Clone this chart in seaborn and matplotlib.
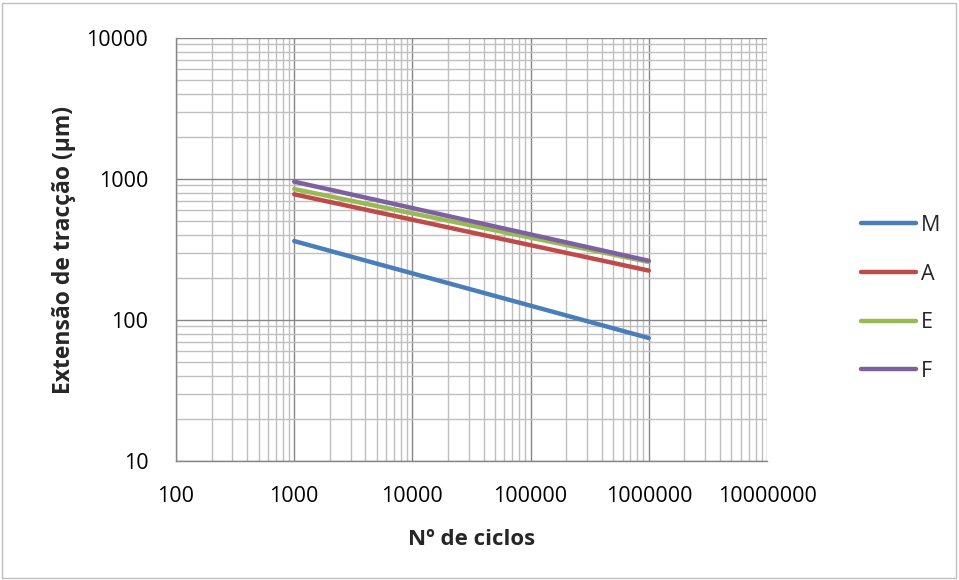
import numpy as np
import pandas as pd
import matplotlib
matplotlib.use("Agg")
import matplotlib.pyplot as plt
import seaborn as sns
from matplotlib.ticker import LogLocator, FixedLocator, NullFormatter, FuncFormatter
from matplotlib.patches import Rectangle

cycles = [1000, 1000000]
series_names = ["M", "A", "E", "F"]
M_vals = [363, 74.5]
A_vals = [779, 224]
E_vals = [849, 258]
F_vals = [957, 263]
colors = ["#4A7EBB", "#BE4B48", "#98B954", "#7D60A0"]

rows = []
for name, vals in zip(series_names, [M_vals, A_vals, E_vals, F_vals]):
    for c, v in zip(cycles, vals):
        rows.append({"ciclos": c, "ext": v, "serie": name})
df = pd.DataFrame(rows)

sns.set_style("white")
plt.rcParams['font.family'] = ['Open Sans', 'DejaVu Sans']

fig = plt.figure(figsize=(9.59, 5.80), dpi=100)
ax = fig.add_axes([176/959, 1-461/580, (767-176)/959, (461-38)/580])

sns.lineplot(data=df, x="ciclos", y="ext", hue="serie", hue_order=series_names,
             palette=colors, linewidth=3.2, ax=ax, solid_capstyle="round")

ax.set_xscale("log")
ax.set_yscale("log")
ax.set_xlim(100, 1e7)
ax.set_ylim(10, 10000)

ax.xaxis.set_major_locator(FixedLocator([1e2, 1e3, 1e4, 1e5, 1e6, 1e7]))
ax.yaxis.set_major_locator(FixedLocator([10, 100, 1000, 10000]))
ax.xaxis.set_minor_locator(LogLocator(base=10, subs=np.arange(2, 10)))
ax.yaxis.set_minor_locator(LogLocator(base=10, subs=np.arange(2, 10)))
ax.xaxis.set_minor_formatter(NullFormatter())
ax.yaxis.set_minor_formatter(NullFormatter())
fmt = FuncFormatter(lambda v, p: f"{int(round(v))}")
ax.xaxis.set_major_formatter(fmt)
ax.yaxis.set_major_formatter(fmt)

ax.grid(which="major", color="#868686", linewidth=1.0)
ax.grid(which="minor", color="#BFBFBF", linewidth=1.0)
ax.set_axisbelow(True)

for s in ["top", "right"]:
    ax.spines[s].set_visible(False)
for s in ["left", "bottom"]:
    ax.spines[s].set_color("#868686")
    ax.spines[s].set_linewidth(1.0)

ax.tick_params(axis="both", which="major", direction="out", length=6, width=1,
               color="#868686", labelsize=15.5, labelcolor="black")
ax.tick_params(axis="y", which="major", pad=14)
ax.tick_params(axis="x", which="major", pad=12)
ax.tick_params(axis="both", which="minor", length=0)

ax.set_xlabel("Nº de ciclos", fontsize=16, fontweight="bold", labelpad=15.5)
ax.set_ylabel("Extensão de tracção (µm)", fontsize=16.5, fontweight="bold", labelpad=7.5)

leg = ax.legend(loc="upper left", bbox_to_anchor=(861/959, 1-215/580),
                bbox_transform=fig.transFigure, frameon=False, borderpad=0, borderaxespad=0,
                fontsize=15.5, handlelength=2.55, handletextpad=0.25, labelspacing=1.28)
for line in leg.get_lines():
    line.set_linewidth(3.2)
    line.set_solid_capstyle("round")

fig.patches.append(Rectangle((2/959, 2/580), 954/959, 575/580, transform=fig.transFigure,
                             fill=False, edgecolor="#BFBFBF", linewidth=1.0))

fig.savefig("out.png", dpi=100)
